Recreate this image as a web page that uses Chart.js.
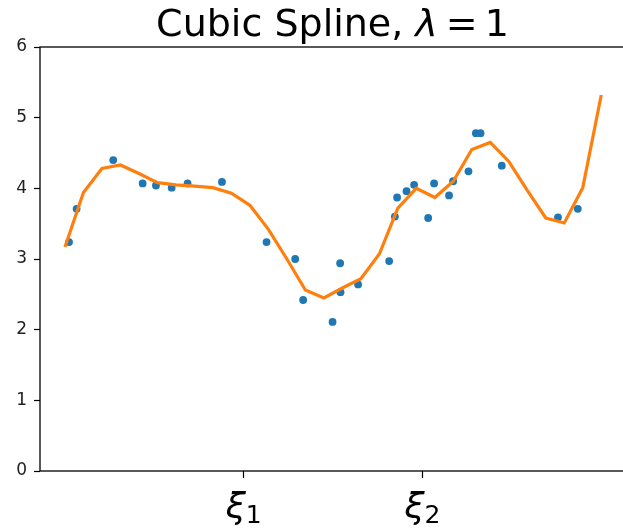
<!DOCTYPE html>
<html>
<head>
<meta charset="utf-8">
<script src="https://cdn.jsdelivr.net/npm/chart.js@4"></script>
<style>
  html, body { margin: 0; padding: 0; background: #fff; overflow: hidden; }
  #wrap { width: 640px; height: 530px; }
</style>
</head>
<body>
<div id="wrap"><canvas id="c" width="640" height="530"></canvas></div>
<script>
// Observed samples
const sampleX = [0.22, 0.63, 2.61, 4.20, 4.92, 5.77, 6.63, 8.49, 10.90, 12.45,
                 12.88, 14.47, 14.88, 14.90, 15.85, 17.53, 17.84, 17.96, 18.47, 18.88,
                 19.64, 19.96, 20.77, 20.99, 21.82, 22.22, 22.47, 23.62, 26.66, 27.73];
const sampleY = [3.24, 3.71, 4.40, 4.07, 4.04, 4.01, 4.07, 4.09, 3.24, 3.00,
                 2.42, 2.11, 2.94, 2.53, 2.64, 2.97, 3.60, 3.87, 3.96, 4.05,
                 3.58, 4.07, 3.90, 4.10, 4.24, 4.78, 4.78, 4.32, 3.59, 3.71];

// Fitted cubic spline evaluated on the plotting grid
const fitX = [0, 1, 2, 3, 4, 5, 6, 7, 8, 9,
              10, 11, 12, 13, 14, 15, 16, 17, 18, 19,
              20, 21, 22, 23, 24, 25, 26, 27, 28, 29];
const fitY = [3.17, 3.94, 4.28, 4.33, 4.21, 4.08, 4.05, 4.03, 4.01, 3.93,
              3.76, 3.42, 3.00, 2.56, 2.45, 2.59, 2.72, 3.07, 3.72, 4.00,
              3.87, 4.10, 4.55, 4.65, 4.38, 3.97, 3.58, 3.51, 4.01, 5.32];

// Knot locations and their subscripts
const knotX = [9.667, 19.333];
const knotSub = ['1', '2'];

// y-axis ticks
const yTicks = [0, 1, 2, 3, 4, 5, 6];

const FONT = "'DejaVu Sans', sans-serif";

// Axes frame (all four spines)
const framePlugin = {
  id: 'frame',
  afterDatasetsDraw(chart) {
    const { ctx, chartArea: a } = chart;
    ctx.save();
    ctx.strokeStyle = '#000';
    ctx.lineWidth = 1.3;
    ctx.strokeRect(a.left, a.top, a.right - a.left, a.bottom - a.top);
    ctx.restore();
  }
};

// Title with an italic lambda, and knot labels with subscripts
const textPlugin = {
  id: 'mathText',
  afterDraw(chart) {
    const { ctx, chartArea: a } = chart;
    ctx.save();
    ctx.fillStyle = '#000';
    ctx.textBaseline = 'alphabetic';
    ctx.textAlign = 'left';

    const size = 38;
    const parts = [
      { t: 'Cubic Spline, ', f: `${size}px ${FONT}`, gap: 0 },
      { t: '\u03bb', f: `italic ${size}px ${FONT}`, gap: 0 },
      { t: '=', f: `${size}px ${FONT}`, gap: 8 },
      { t: '1', f: `${size}px ${FONT}`, gap: 7 }
    ];
    let total = 0;
    parts.forEach(p => { ctx.font = p.f; p.w = ctx.measureText(p.t).width; total += p.gap + p.w; });
    let x = (a.left + a.right) / 2 - total / 2 - 2;
    const base = 36;
    parts.forEach(p => { x += p.gap; ctx.font = p.f; ctx.fillText(p.t, x, base); x += p.w; });

    const xs = chart.scales.x;
    knotX.forEach((v, i) => {
      const px = xs.getPixelForValue(v);
      ctx.font = `italic 36px ${FONT}`;
      const w1 = ctx.measureText('\u03be').width;
      ctx.font = `25px ${FONT}`;
      const w2 = ctx.measureText(knotSub[i]).width;
      const start = px - (w1 + w2) / 2;
      ctx.font = `italic 36px ${FONT}`;
      ctx.fillText('\u03be', start, 518);
      ctx.font = `25px ${FONT}`;
      ctx.fillText(knotSub[i], start + w1, 523);
    });
    ctx.restore();
  }
};

new Chart(document.getElementById('c'), {
  type: 'scatter',
  data: {
    datasets: [
      {
        type: 'line',
        data: fitX.map((v, i) => ({ x: v, y: fitY[i] })),
        borderColor: '#ff7f0e',
        borderWidth: 3.2,
        pointRadius: 0,
        tension: 0,
        fill: false,
        order: 0
      },
      {
        type: 'scatter',
        data: sampleX.map((v, i) => ({ x: v, y: sampleY[i] })),
        backgroundColor: '#1f77b4',
        borderWidth: 0,
        pointRadius: 3.9,
        order: 1
      }
    ]
  },
  options: {
    responsive: false,
    devicePixelRatio: 1,
    animation: false,
    layout: { padding: { top: 47, right: 11, left: 0, bottom: 0 } },
    plugins: { legend: { display: false }, tooltip: { enabled: false }, title: { display: false } },
    scales: {
      x: {
        type: 'linear',
        min: -1.35,
        max: 30.5,
        afterBuildTicks(scale) { scale.ticks = knotX.map(v => ({ value: v })); },
        afterFit(scale) { scale.height = 59; },
        ticks: { callback: () => '', autoSkip: false, font: { family: FONT, size: 17 } },
        grid: { drawOnChartArea: false, drawTicks: true, tickLength: 7, tickColor: '#000', tickWidth: 1.2, color: '#000' },
        border: { display: false }
      },
      y: {
        min: 0,
        max: 6,
        afterBuildTicks(scale) { scale.ticks = yTicks.map(v => ({ value: v })); },
        afterFit(scale) { scale.width = 40; },
        ticks: { color: '#222', padding: 7, font: { family: FONT, size: 17 }, callback: v => String(v) },
        grid: { drawOnChartArea: false, drawTicks: true, tickLength: 6, tickColor: '#000', tickWidth: 1.2, color: '#000' },
        border: { display: false }
      }
    }
  },
  plugins: [framePlugin, textPlugin]
});
</script>
</body>
</html>
